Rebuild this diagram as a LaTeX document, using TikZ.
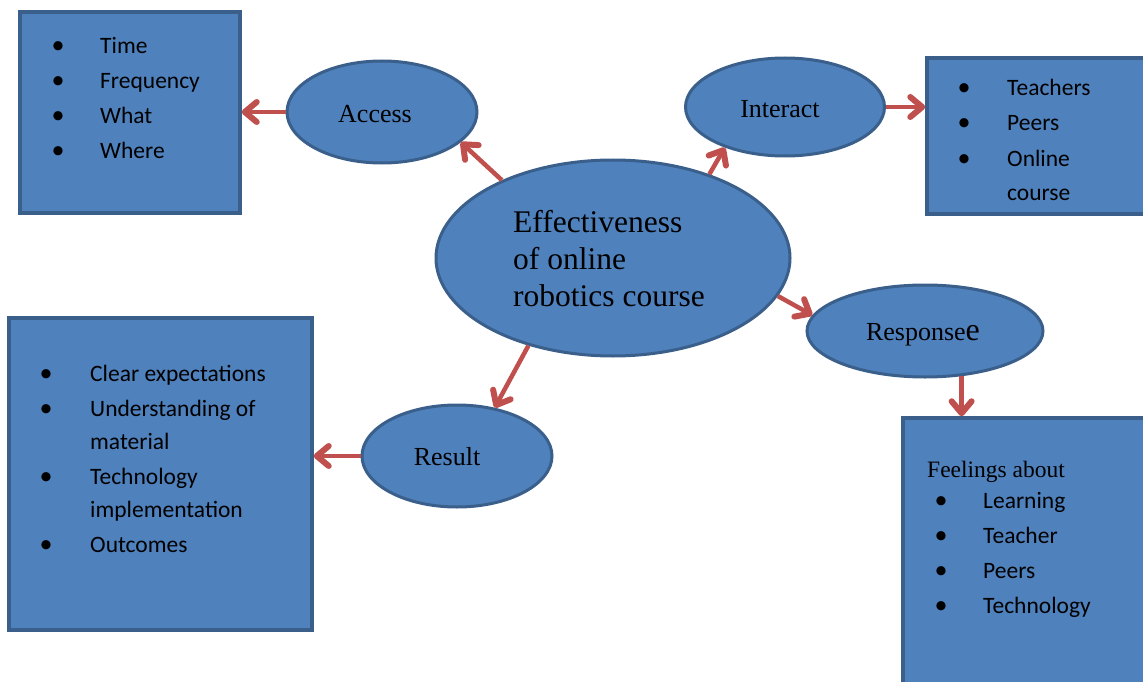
\documentclass[tikz,border=0pt]{standalone}
\usepackage{fontspec}
\setmainfont{Liberation Serif}
\newfontfamily\calibrif{Carlito}
\usetikzlibrary{shapes.geometric,arrows.meta}
\definecolor{fillb}{HTML}{4F81BD}
\definecolor{edgeb}{HTML}{3A5F8B}
\definecolor{arr}{HTML}{C0504D}
\begin{document}
\begin{tikzpicture}[x=1pt,y=-1pt,
  box/.style={draw=edgeb,fill=fillb,line width=3.5pt,rectangle,inner sep=0pt},
  ell/.style={draw=edgeb,fill=fillb,line width=3pt,ellipse,inner sep=0pt},
  conn/.style={draw=arr,line width=4.5pt,-{Straight Barb[length=12pt,width=20pt,line width=6pt,round]}},
  lbl/.style={inner sep=0pt,font=\fontsize{26}{30}\selectfont},
  item/.style={inner sep=0pt,anchor=base west,font=\calibrif\fontsize{23.5}{28}\selectfont},
  bul/.style={inner sep=0pt,anchor=base,font=\calibrif\fontsize{26}{28}\selectfont}]
\clip (0,0) rectangle (1143,682);
% boxes
\node[box,minimum width=220pt,minimum height=201pt] (boxA) at (130,112.5) {};
\node[box,minimum width=223pt,minimum height=156pt] (boxB) at (1038.5,136) {};
\node[box,minimum width=303pt,minimum height=312pt] (boxC) at (160.5,474) {};
\node[box,minimum width=247pt,minimum height=302pt] (boxD) at (1026.5,569) {};
% ellipses
\node[ell,minimum width=354pt,minimum height=196pt] (central) at (613,258) {};
\node[ell,minimum width=190pt,minimum height=102pt] (access) at (382,112) {};
\node[ell,minimum width=199pt,minimum height=98pt] (interact) at (785,107) {};
\node[ell,minimum width=236pt,minimum height=92pt] (responsee) at (925,331) {};
\node[ell,minimum width=190pt,minimum height=102pt] (result) at (457,456) {};
% ellipse labels
\node[inner sep=0pt,anchor=west,align=left,font=\fontsize{31.5}{37}\selectfont] (centralT) at (513,259) {Effectiveness\\of online\\robotics course};
\node[lbl] (accessT) at (375,114) {Access};
\node[lbl] (interactT) at (780,109) {Interact};
\node[lbl] (resultT) at (447,457) {Result};
\node[lbl] (responseeT) at (923,335) {Response{\fontsize{32}{30}\selectfont e}};
% box A
\node[bul] (bA1) at (58,54) {•}; \node[item] (tA1) at (100,54) {Time};
\node[bul] (bA2) at (58,89) {•}; \node[item] (tA2) at (100,89) {Frequency};
\node[bul] (bA3) at (58,124) {•}; \node[item] (tA3) at (100,124) {What};
\node[bul] (bA4) at (58,159) {•}; \node[item] (tA4) at (100,159) {Where};
% box B
\node[bul] (bB1) at (964,96) {•}; \node[item] (tB1) at (1007,96) {Teachers};
\node[bul] (bB2) at (964,131) {•}; \node[item] (tB2) at (1007,131) {Peers};
\node[bul] (bB3) at (964,166) {•}; \node[item] (tB3) at (1007,166) {Online};
\node[item] (tB4) at (1007,200) {course};
% box C
\node[bul] (bC1) at (46,381) {•}; \node[item] (tC1) at (90,381) {Clear expectations};
\node[bul] (bC2) at (46,416) {•}; \node[item] (tC2) at (90,416) {Understanding of};
\node[item] (tC3) at (90,449) {material};
\node[bul] (bC4) at (46,484) {•}; \node[item] (tC4) at (90,484) {Technology};
\node[item] (tC5) at (90,517) {implementation};
\node[bul] (bC6) at (46,552) {•}; \node[item] (tC6) at (90,552) {Outcomes};
% box D
\node[inner sep=0pt,anchor=base west,font=\fontsize{23.5}{28}\selectfont] (tD0) at (927,477) {Feelings about};
\node[bul] (bD1) at (941,508) {•}; \node[item] (tD1) at (983,508) {Learning};
\node[bul] (bD2) at (941,543) {•}; \node[item] (tD2) at (983,543) {Teacher};
\node[bul] (bD3) at (941,578) {•}; \node[item] (tD3) at (983,578) {Peers};
\node[bul] (bD4) at (941,613) {•}; \node[item] (tD4) at (983,613) {Technology};
% connectors
\draw[conn] (access.west) -- (access.west -| boxA.east);
\draw[conn] (central.145) -- (access.-21);
\draw[conn] (central.41) -- (interact.214);
\draw[conn] (interact.east) -- (interact.east -| boxB.west);
\draw[conn] (central.-13) -- (responsee.172);
\draw[conn] (responsee.-51) -- (responsee.-51 |- boxD.north);
\draw[conn] (central.226) -- (result.52);
\draw[conn] (result.west) -- (result.west -| boxC.east);
\end{tikzpicture}
\end{document}
